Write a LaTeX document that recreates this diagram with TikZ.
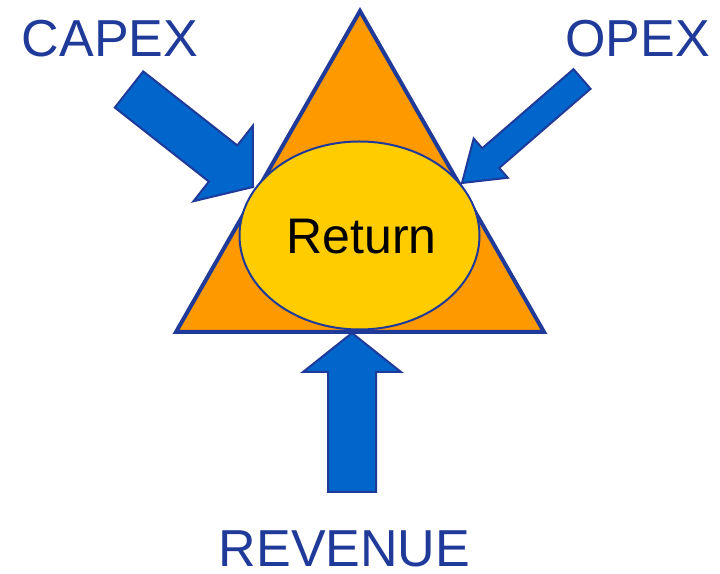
\documentclass[tikz,border=0pt]{standalone}
\usepackage{fontspec}
\setmainfont{Liberation Sans}
\usetikzlibrary{calc}
\definecolor{navy}{RGB}{31,58,153}
\definecolor{flow}{RGB}{0,102,204}
\definecolor{tri}{RGB}{255,153,0}
\definecolor{core}{RGB}{255,204,0}
\tikzset{
    tag/.style =    {text=navy,
                    inner sep=0pt,
                    anchor=base,
                    font=\fontsize{52}{60}\selectfont},
    hub/.style =    {fill=core,
                    draw=navy,
                    line width=2pt},
    side/.style =   {fill=tri,
                    draw=navy,
                    line width=4pt,
                    line join=miter},
    bigarrow/.style = {fill=flow,
                    draw=navy,
                    line width=2pt,
                    line join=miter}}

% block arrow: #1 tail, #2 tip, #3 half shaft, #4 half head, #5 head length
\newcommand\blockarrow[5]{%
    \coordinate (hb) at ($(#2)!#5!(#1)$);
    \draw[bigarrow] (#2) -- ($(hb)!#4!90:(#2)$) -- ($(hb)!#3!90:(#2)$)
        -- ($(#1)!#3!90:(hb)$) -- ($(#1)!#3!-90:(hb)$)
        -- ($(hb)!#3!-90:(#2)$) -- ($(hb)!#4!-90:(#2)$) -- cycle;}

\begin{document}
\begin{tikzpicture}[x=1pt,y=1pt]
                \useasboundingbox (0,0) rectangle (720,573);

                \coordinate (T1) at (360,562);
                \coordinate (T2) at (176,241);
                \coordinate (T3) at (544,241);
                \draw[side] (T1) -- (T2) -- (T3) -- cycle;

                \draw[hub] (359.5,337.5) ellipse [x radius=120, y radius=94];
                \node[tag,text=black,font=\fontsize{50}{58}\selectfont] (ret) at (361.5,319) {Return};

                \node[tag]          (capex) at (110,516)   {CAPEX};
                \node[tag]          (opex)  at (637.5,516) {OPEX};
                \node[tag]          (rev)   at (344.5,7)   {REVENUE};

                \coordinate (capexT) at (129,483.5);
                \coordinate (capexH) at (253,386);
                \coordinate (opexT)  at (582,494);
                \coordinate (opexH)  at (462,390);
                \coordinate (revT)   at (352,81);
                \coordinate (revH)   at (352,240);

                \blockarrow{capexT}{capexH}{23pt}{48pt}{38pt}
                \blockarrow{opexT}{opexH}{13pt}{26pt}{38pt}
                \blockarrow{revT}{revH}{24pt}{49pt}{39pt}
        \end{tikzpicture}
\end{document}
